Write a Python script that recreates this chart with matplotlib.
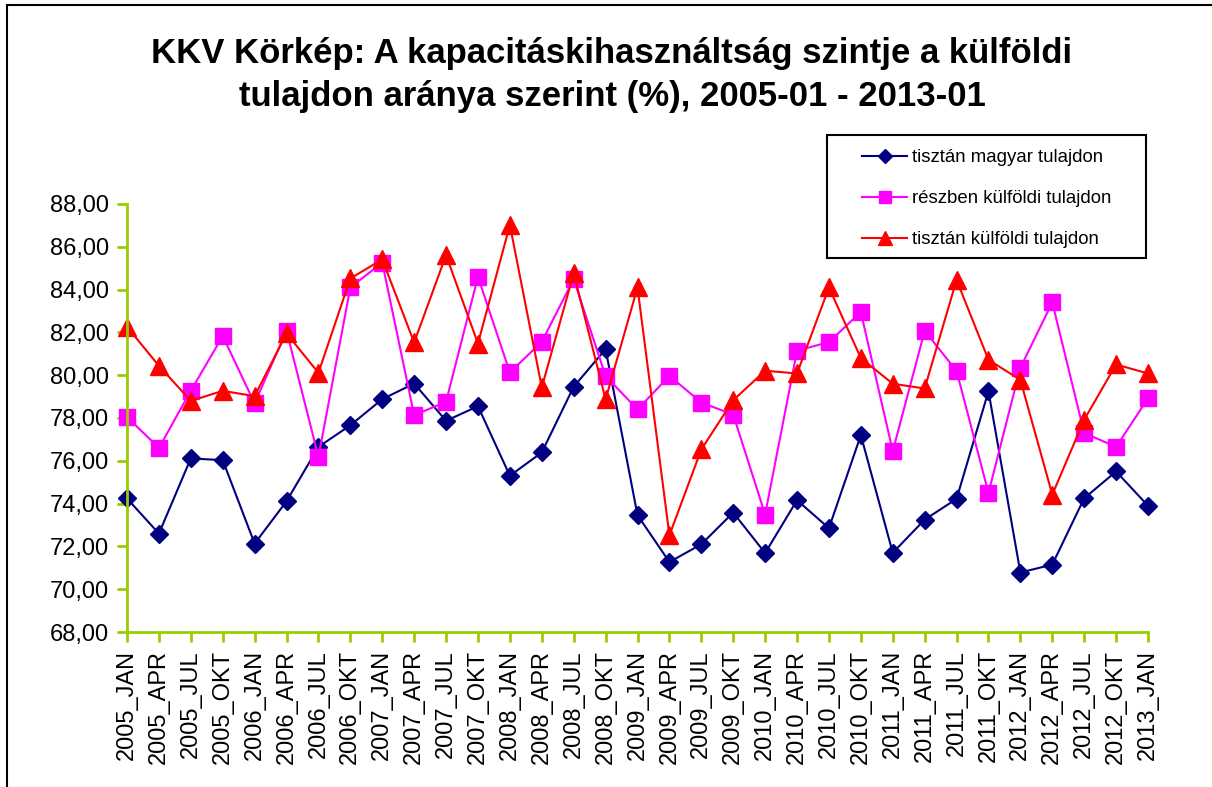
import matplotlib
matplotlib.use("Agg")
import matplotlib.pyplot as plt
from matplotlib.patches import Rectangle

plt.rcParams['font.family'] = ['Liberation Sans', 'DejaVu Sans']

years = ["2005", "2006", "2007", "2008", "2009", "2010", "2011", "2012"]
quarters = ["JAN", "APR", "JUL", "OKT"]
labels = [y + "_" + q for y in years for q in quarters] + ["2013_JAN"]

magyar = [74.24, 72.60, 76.11, 76.03, 72.13, 74.11, 76.65, 77.66, 78.88, 79.61,
          77.87, 78.55, 75.30, 76.39, 79.46, 81.22, 73.46, 71.27, 72.10, 73.58,
          71.69, 74.16, 72.85, 77.20, 71.70, 73.25, 74.22, 79.25, 70.78, 71.15,
          74.25, 75.50, 73.90]
reszben = [78.05, 76.60, 79.27, 81.83, 78.68, 82.08, 76.18, 84.10, 85.26, 78.13,
           78.76, 84.60, 80.13, 81.56, 84.49, 79.96, 78.40, 79.97, 78.72, 78.16,
           73.49, 81.14, 81.55, 82.95, 76.45, 82.07, 80.20, 74.50, 80.35, 83.40,
           77.30, 76.65, 78.92]
kulfoldi = [82.26, 80.44, 78.80, 79.27, 79.02, 81.95, 80.11, 84.52, 85.41, 81.53,
            85.61, 81.48, 87.02, 79.43, 84.76, 78.87, 84.10, 72.52, 76.53, 78.83,
            80.21, 80.08, 84.10, 80.80, 79.60, 79.38, 84.45, 80.72, 79.78, 74.42,
            77.92, 80.50, 80.08]

W, H = 1212, 787
fig = plt.figure(figsize=(W / 100, H / 100), dpi=100)
# outer chart border (cut off at right and bottom like the original)
fig.patches.append(Rectangle((7 / W, -0.1), 1.2, 1.1 - 5 / H, transform=fig.transFigure,
                             fill=False, edgecolor="black", linewidth=1.5))
# legend frame
fig.patches.append(Rectangle((827 / W, 1 - 258 / H), (1146 - 827) / W, (258 - 135) / H,
                             transform=fig.transFigure, fill=False, edgecolor="black",
                             linewidth=1.5, zorder=5))

ax = fig.add_axes([127 / W, 1 - 632 / H, (1148 - 127) / W, (632 - 204) / H])
x = list(range(len(labels)))

ax.plot(x, magyar, color="#000080", marker="D", markersize=9, linewidth=1.5,
        label="tisztán magyar tulajdon", clip_on=False)
ax.plot(x, reszben, color="#FF00FF", marker="s", markersize=12, linewidth=1.5,
        label="részben külföldi tulajdon", clip_on=False)
ax.plot(x, kulfoldi, color="#FF0000", marker="^", markersize=13, linewidth=1.5,
        label="tisztán külföldi tulajdon", clip_on=False)

ax.set_xlim(0, len(labels) - 1)
ax.set_ylim(68, 88)
ax.set_yticks(range(68, 89, 2))
ax.set_yticklabels(["%d,00" % v for v in range(68, 89, 2)], fontsize=17)
ax.set_xticks(x)
ax.set_xticklabels(labels, rotation=90, fontsize=17)

for s in ["top", "right"]:
    ax.spines[s].set_visible(False)
for s in ["left", "bottom"]:
    ax.spines[s].set_color("#99CC00")
    ax.spines[s].set_linewidth(2)
ax.tick_params(axis="both", colors="#99CC00", width=2, length=7, labelcolor="black", pad=6)

leg = fig.legend(loc="upper left", bbox_to_anchor=(862 / W, 1 - 149 / H),
                 fontsize=13.4, frameon=False, borderpad=0, labelspacing=1.29,
                 handlelength=2.42, handletextpad=0.27, borderaxespad=0, markerscale=0.75)

fig.text(0.505, 0.953, "KKV Körkép: A kapacitáskihasználtság szintje a külföldi\n"
         "tulajdon aránya szerint (%), 2005-01 - 2013-01",
         ha="center", va="top", fontsize=25, fontweight="bold", linespacing=1.38)

fig.savefig("out.png", dpi=100)
